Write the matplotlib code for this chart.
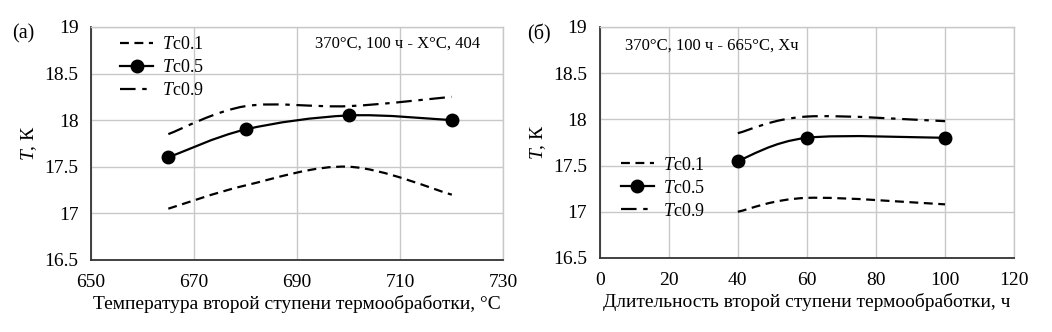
import matplotlib
matplotlib.use("Agg")
import matplotlib.pyplot as plt
from matplotlib.path import Path
from matplotlib.patches import PathPatch
from matplotlib.lines import Line2D
import numpy as np

plt.rcParams['font.family'] = ['Liberation Serif', 'DejaVu Serif']
plt.rcParams['mathtext.fontset'] = 'custom'
plt.rcParams['mathtext.it'] = 'Liberation Serif:italic'
plt.rcParams['mathtext.rm'] = 'Liberation Serif'

# Panel (a)
temp_x = [665, 680, 700, 720]
a_tc01 = [17.05, 17.3, 17.5, 17.2]
a_tc05 = [17.6, 17.9, 18.05, 18.0]
a_tc09 = [17.85, 18.15, 18.15, 18.25]

# Panel (б)
dur_x = [40, 60, 100]
b_tc01 = [17.0, 17.15, 17.08]
b_tc05 = [17.55, 17.8, 17.8]
b_tc09 = [17.85, 18.03, 17.98]

labels = ['$T$c0.1', '$T$c0.5', '$T$c0.9']
a_xticks = [650, 670, 690, 710, 730]
b_xticks = [0, 20, 40, 60, 80, 100, 120]
yticks = [16.5, 17, 17.5, 18, 18.5, 19]
ytick_labels = ['16.5', '17', '17.5', '18', '18.5', '19']


def smooth_path(x, y):
    """Excel-like smoothed line via cubic Bezier (Catmull-Rom control points)."""
    P = np.column_stack([x, y]).astype(float)
    n = len(P)
    verts = [P[0]]
    codes = [Path.MOVETO]
    for i in range(n - 1):
        p0 = P[i - 1] if i > 0 else P[i]
        p1 = P[i]
        p2 = P[i + 1]
        p3 = P[i + 2] if i + 2 < n else P[i + 1]
        c1 = p1 + (p2 - p0) / 6.0
        c2 = p2 - (p3 - p1) / 6.0
        verts += [c1, c2, p2]
        codes += [Path.CURVE4] * 3
    return Path(verts, codes)


styles = [
    dict(linestyle=(0, (4, 2.5))),
    dict(linestyle='-'),
    dict(linestyle=(0, (7, 3, 2, 3))),
]

fig = plt.figure(figsize=(10.52, 3.32), dpi=100)
ax_a = fig.add_axes([0.0865, 0.217, 0.392, 0.702])
ax_b = fig.add_axes([0.570, 0.223, 0.394, 0.696])


def setup(ax, xticks, xlabel):
    ax.set_ylim(16.5, 19)
    ax.set_xlim(xticks[0], xticks[-1])
    ax.set_xticks(xticks)
    ax.set_yticks(yticks)
    ax.set_yticklabels(ytick_labels)
    ax.grid(True, color='#c8c8c8', linewidth=1.0)
    ax.set_axisbelow(True)
    ax.tick_params(length=0, labelsize=14, colors='black')
    ax.tick_params(axis='x', pad=10)
    ax.tick_params(axis='y', pad=9)
    for s in ['top', 'right']:
        ax.spines[s].set_color('#c8c8c8')
        ax.spines[s].set_linewidth(1.0)
    for s in ['left', 'bottom']:
        ax.spines[s].set_color('#333333')
        ax.spines[s].set_linewidth(1.3)
    ax.set_xlabel(xlabel, fontsize=14, labelpad=3)
    ax.set_ylabel('$T$, К', fontsize=14, labelpad=4)


def draw_series(ax, x, series):
    handles = []
    for i, (ys, lab) in enumerate(zip(series, labels)):
        patch = PathPatch(smooth_path(x, ys), fill=False, edgecolor='black',
                          linewidth=1.6, **styles[i])
        ax.add_patch(patch)
        if i == 1:
            ax.plot(x, ys, linestyle='none', marker='o', markersize=9,
                    color='black')
            h = Line2D([], [], color='black', linewidth=1.6, marker='o',
                       markersize=9, **styles[i])
        else:
            h = Line2D([], [], color='black', linewidth=1.6, **styles[i])
        handles.append(h)
    return handles


setup(ax_a, a_xticks, 'Температура второй ступени термообработки, °C')
setup(ax_b, b_xticks, 'Длительность второй ступени термообработки, ч')

ha = draw_series(ax_a, temp_x, [a_tc01, a_tc05, a_tc09])
hb = draw_series(ax_b, dur_x, [b_tc01, b_tc05, b_tc09])

ax_a.legend(ha, labels, loc='upper left', bbox_to_anchor=(0.07, 0.959),
            frameon=False, fontsize=13, handlelength=1.85, handletextpad=0.5,
            labelspacing=0.33, borderpad=0, borderaxespad=0)
ax_b.legend(hb, labels, loc='upper left', bbox_to_anchor=(0.051, 0.4385),
            frameon=False, fontsize=13, handlelength=1.85, handletextpad=0.5,
            labelspacing=0.33, borderpad=0, borderaxespad=0)

ax_a.text(0.944, 0.93, '370°C, 100 ч - X°C, 404', transform=ax_a.transAxes,
          ha='right', va='center', fontsize=12)
ax_b.text(0.06, 0.92, '370°C, 100 ч - 665°C, Xч', transform=ax_b.transAxes,
          ha='left', va='center', fontsize=12)

fig.text(12 / 1052, 1 - 34 / 332, '(a)', fontsize=14.5, ha='left', va='center')
fig.text(527 / 1052, 1 - 34 / 332, '(б)', fontsize=14.5, ha='left', va='center')

fig.savefig('out.png', dpi=100)
